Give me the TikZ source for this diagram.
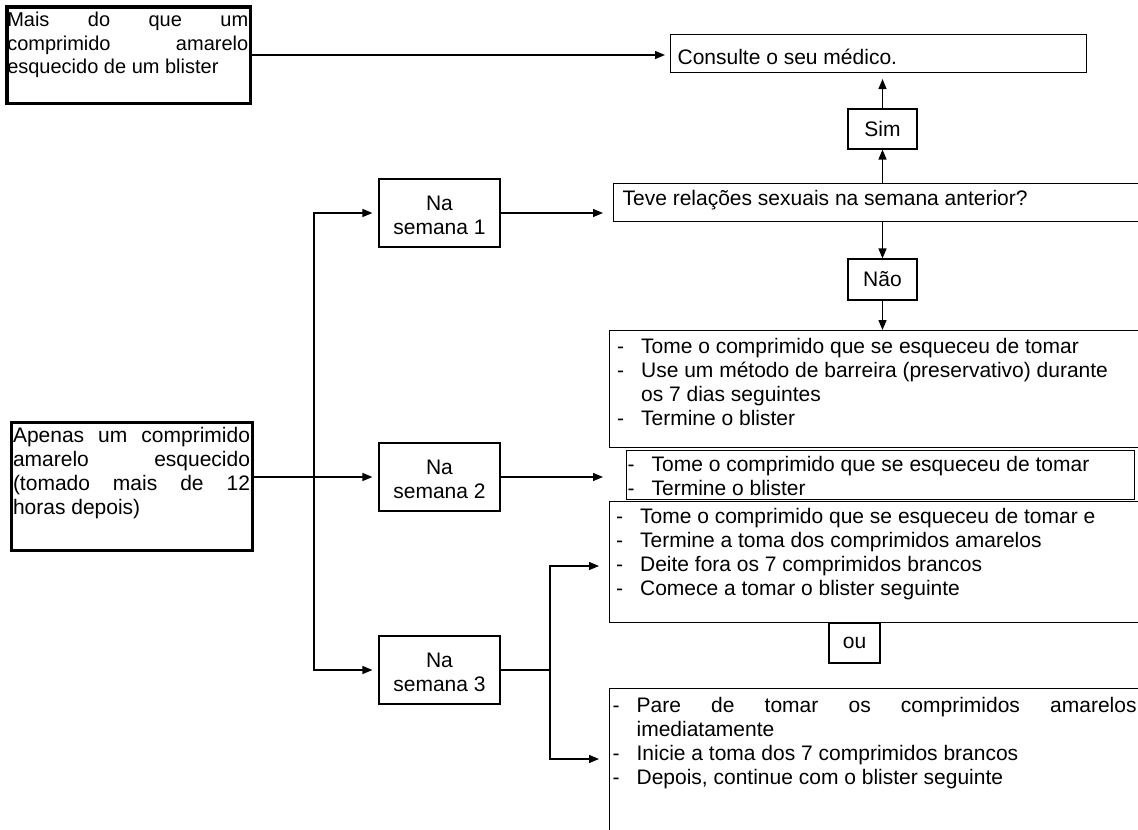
\documentclass[tikz,border=0pt]{standalone}
\usepackage{fontspec}
\setmainfont{Liberation Sans}
\usetikzlibrary{arrows.meta}
\newcommand{\txtpanel}[4]{\begin{minipage}[b][#2][t]{#1}\vspace*{#3}#4\end{minipage}}
\newcommand{\dashline}[1]{\par\noindent\hangindent=24pt\hangafter=1\makebox[24pt][l]{-}#1}

\begin{document}
\begin{tikzpicture}[x=1pt,y=-1pt,>={Triangle[length=10pt,width=8pt]},
  every node/.style={font=\fontsize{21}{24}\selectfont},
  panelbox/.style={draw,line width=1.2pt,inner ysep=0pt,anchor=north west},
  tagbox/.style={draw,line width=1.2pt,inner sep=0pt,align=center},
  linkline/.style={->,line width=1.3pt}]
\clip (0,0) rectangle (1138,830);
\node[panelbox,line width=3.5pt,inner xsep=0.5pt,font=\fontsize{20}{23.5}\selectfont] (mais) at (5,5) {\txtpanel{242.5pt}{96.5pt}{5.5pt}{\noindent\makebox[241pt][s]{Mais do que um}\\\makebox[241pt][s]{comprimido amarelo}\\esquecido de um blister}};
\node[panelbox,line width=3pt,inner xsep=1.5pt] (apenas) at (10,421) {\txtpanel{238pt}{128pt}{5pt}{\noindent\makebox[237pt][s]{Apenas um comprimido}\\\makebox[237pt][s]{amarelo esquecido}\\\makebox[237pt][s]{(tomado mais de 12}\\horas depois)}};
\node[panelbox,inner xsep=7pt] (consulte) at (670,34) {\txtpanel{401.8pt}{37.8pt}{14pt}{\noindent Consulte o seu médico.}};
\node[panelbox,inner xsep=9pt] (teve) at (613,183) {\txtpanel{540pt}{37.8pt}{6.5pt}{\noindent Teve relações sexuais na semana anterior?}};
\node[panelbox,inner xsep=7.5pt] (b1) at (609,330) {\txtpanel{540pt}{117pt}{8pt}{\dashline{Tome o comprimido que se esqueceu de tomar}\dashline{Use um método de barreira (preservativo) durante\\os 7 dias seguintes}\dashline{Termine o blister}}};
\node[panelbox,inner xsep=6.5pt] (b3) at (609,501) {\txtpanel{540pt}{120.8pt}{7pt}{\dashline{Tome o comprimido que se esqueceu de tomar e}\dashline{Termine a toma dos comprimidos amarelos}\dashline{Deite fora os 7 comprimidos brancos}\dashline{Comece a tomar o blister seguinte}}};
\node[panelbox,inner xsep=1pt] (b2) at (626,450) {\txtpanel{506pt}{48.8pt}{6pt}{\dashline{Tome o comprimido que se esqueceu de tomar}\dashline{Termine o blister}}};
\node[panelbox,inner xsep=3pt] (b4) at (609,688) {\txtpanel{540pt}{160pt}{9pt}{\dashline{\makebox[500pt][s]{Pare de tomar os comprimidos amarelos}\\imediatamente}\dashline{Inicie a toma dos 7 comprimidos brancos}\dashline{Depois, continue com o blister seguinte}}};
\node[tagbox,minimum width=69pt,minimum height=40pt] (sim) at (882.5,129) {Sim};
\node[tagbox,minimum width=69pt,minimum height=41pt] (nao) at (882.5,279.5) {Não};
\node[tagbox,minimum width=51pt,minimum height=40pt] (ou) at (854.5,643) {ou};
\node[tagbox,minimum width=121pt,minimum height=68pt,text height=43pt,text depth=0pt] (sem1) at (439.5,213) {Na\\semana 1};
\node[tagbox,minimum width=121pt,minimum height=68pt,text height=43pt,text depth=0pt] (sem2) at (439.5,477) {Na\\semana 2};
\node[tagbox,minimum width=121pt,minimum height=68pt,text height=43pt,text depth=0pt] (sem3) at (439.5,670) {Na\\semana 3};
\coordinate (trunk) at (314,477);
\coordinate (fork) at (550,670);
\coordinate (to3) at (599,566);
\coordinate (to4) at (599,759);
\draw[linkline,shorten >=5pt] (mais.east) -- (mais.east -| consulte.west);
\draw[linkline,shorten >=6pt] (sim.north) -- (sim.north |- consulte.south);
\draw[linkline] (teve.north -| sim) -- (sim.south);
\draw[linkline] (teve.south -| nao) -- (nao.north);
\draw[linkline] (nao.south) -- (nao.south |- b1.north);
\draw[linkline,shorten >=10pt] (sem1.east) -- (sem1.east -| teve.west);
\draw[linkline,shorten >=23pt] (sem2.east) -- (sem2.east -| b2.west);
\draw[linkline,shorten >=6pt] (apenas.east |- sem2) -- (sem2.west);
\draw[linkline,shorten >=6pt] (trunk) |- (sem1.west);
\draw[linkline,shorten >=6pt] (trunk) |- (sem3.west);
\draw[line width=1.3pt] (sem3.east) -- (fork);
\draw[linkline] (fork) |- (to3);
\draw[linkline] (fork) |- (to4);
\end{tikzpicture}
\end{document}
